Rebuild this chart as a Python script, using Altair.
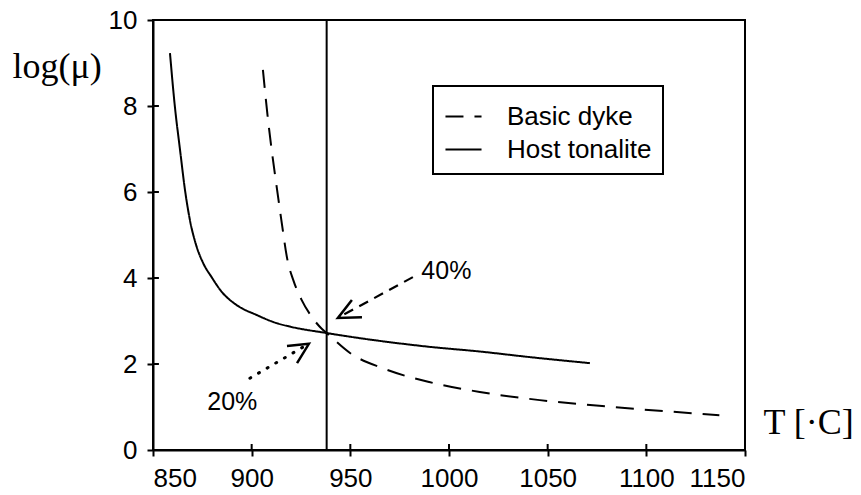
import altair as alt
import pandas as pd

# ---- data ----
host_T = [858.6, 861.1, 863.7, 866.2, 868.7, 872.1, 875.5, 879.7, 884.8, 892.4, 902.5, 912.7,
          919.4, 938.0, 990.0, 1015.7, 1041.0, 1071.4]
host_mu = [9.23, 7.98, 6.98, 6.05, 5.35, 4.73, 4.34, 4.02, 3.68, 3.37, 3.14, 2.95,
           2.87, 2.72, 2.40, 2.29, 2.16, 2.02]
dyke_T = [905.7, 908.0, 910.5, 912.8, 915.5, 918.0, 921.1, 925.3, 930.4, 935.5, 938.5,
          950.0, 966.5, 990.0, 1015.6, 1046.0, 1083.0, 1137.0]
dyke_mu = [8.84, 7.8, 6.85, 6.08, 5.2, 4.45, 3.95, 3.49, 3.10, 2.82, 2.70,
           2.25, 1.9, 1.58, 1.35, 1.16, 1.0, 0.81]
series_names = ["Basic dyke", "Host tonalite"]

x_ticks = [850, 900, 950, 1000, 1050, 1100, 1150]
y_ticks = [0, 2, 4, 6, 8, 10]
crit_T = 938.0

label_text = ["40%", "20%"]
label_T = [986.0, 877.5]
label_mu = [3.98, 0.93]

arrow40_T = [981.7, 945.5]
arrow40_mu = [4.02, 3.12]
head40_T = [950.8, 943.7, 955.9]
head40_mu = [3.49, 3.07, 3.09]
arrow20_T = [899.1, 927.0]
arrow20_mu = [1.67, 2.42]
head20_T = [917.9, 929.0, 923.0]
head20_mu = [2.42, 2.47, 2.02]

# ---- tables ----
curves = pd.DataFrame({
    "T": dyke_T + host_T,
    "mu": dyke_mu + host_mu,
    "series": [series_names[0]] * len(dyke_T) + [series_names[1]] * len(host_T),
})
labels = pd.DataFrame({"T": label_T, "mu": label_mu, "text": label_text})
a40 = pd.DataFrame({"T": arrow40_T, "mu": arrow40_mu, "k": list(range(len(arrow40_T)))})
h40 = pd.DataFrame({"T": head40_T, "mu": head40_mu, "k": list(range(len(head40_T)))})
a20 = pd.DataFrame({"T": arrow20_T, "mu": arrow20_mu, "k": list(range(len(arrow20_T)))})
h20 = pd.DataFrame({"T": head20_T, "mu": head20_mu, "k": list(range(len(head20_T)))})
vline = pd.DataFrame({"T": [crit_T], "mu": [y_ticks[0]], "mu2": [y_ticks[-1]]})
xt = pd.DataFrame({"T": x_ticks, "mu": [0.0] * len(x_ticks), "mu2": [0.14] * len(x_ticks)})
yt = pd.DataFrame({"T": [850.0] * len(y_ticks), "T2": [853.0] * len(y_ticks), "mu": y_ticks})

FONT = "Liberation Sans"
SERIF = "Liberation Serif"

xscale = alt.Scale(domain=[x_ticks[0], x_ticks[-1]], nice=False, zero=False)
yscale = alt.Scale(domain=[y_ticks[0], y_ticks[-1]], nice=False, zero=False)

xaxis = alt.Axis(values=x_ticks, format="d", title="T [·C]", titleAngle=0, titleX=610, titleY=-17,
                 titleAlign="left", titleBaseline="alphabetic", labelPadding=9)
yaxis = alt.Axis(values=y_ticks, format="d", title="log(μ)", titleAngle=0, titleX=-141, titleY=57,
                 titleAlign="left", titleBaseline="alphabetic", labelPadding=10)

X = alt.X("T:Q", scale=xscale, axis=xaxis)
Y = alt.Y("mu:Q", scale=yscale, axis=yaxis)

lines = alt.Chart(curves).mark_line(color="black", strokeWidth=2, interpolate="monotone").encode(
    x=X, y=Y,
    strokeDash=alt.StrokeDash(
        "series:N",
        scale=alt.Scale(domain=series_names, range=[[18, 11], [1, 0]]),
        legend=alt.Legend(title=None, orient="none", legendX=280, legendY=66,
                          direction="vertical", symbolType="stroke", symbolSize=1300,
                          symbolStrokeWidth=2, symbolStrokeColor="black",
                          labelFont=FONT, labelFontSize=26, labelColor="black",
                          strokeColor="black", padding=11, rowPadding=0, labelOffset=24),
    ),
)

rule = alt.Chart(vline).mark_rule(color="black", strokeWidth=2).encode(
    x=X, y=Y, y2="mu2:Q")

xin = alt.Chart(xt).mark_rule(color="black", strokeWidth=2).encode(x=X, y=Y, y2="mu2:Q")
yin = alt.Chart(yt).mark_rule(color="black", strokeWidth=2).encode(x=X, x2="T2:Q", y=Y)

txt = alt.Chart(labels).mark_text(font=FONT, fontSize=25, align="left", baseline="alphabetic",
                                  color="black").encode(x=X, y=Y, text="text:N")

arr40 = alt.Chart(a40).mark_line(color="black", strokeWidth=2.2, strokeDash=[10, 7]).encode(
    x=X, y=Y, order="k:Q")
hd40 = alt.Chart(h40).mark_line(color="black", strokeWidth=2.5).encode(x=X, y=Y, order="k:Q")
arr20 = alt.Chart(a20).mark_line(color="black", strokeWidth=3, strokeDash=[1, 9],
                                 strokeCap="round").encode(x=X, y=Y, order="k:Q")
hd20 = alt.Chart(h20).mark_line(color="black", strokeWidth=2.5).encode(x=X, y=Y, order="k:Q")

chart = alt.layer(lines, rule, xin, yin, txt, arr40, hd40, arr20, hd20).properties(
    width=592, height=430,
    autosize=alt.AutoSizeParams(type="none"),
    padding={"left": 145, "top": 12, "right": 108, "bottom": 44},
).configure_view(stroke="black", strokeWidth=2).configure_axis(
    grid=False, domainColor="black", domainWidth=2, tickColor="black", tickWidth=2, tickSize=6,
    labelFont=FONT, labelFontSize=26, labelColor="black",
    titleFont=SERIF, titleFontSize=36, titleFontWeight="normal", titleColor="black",
).configure_legend(strokeWidth=2)

chart.save("out.html", embed_options={"renderer": "svg", "actions": False})
